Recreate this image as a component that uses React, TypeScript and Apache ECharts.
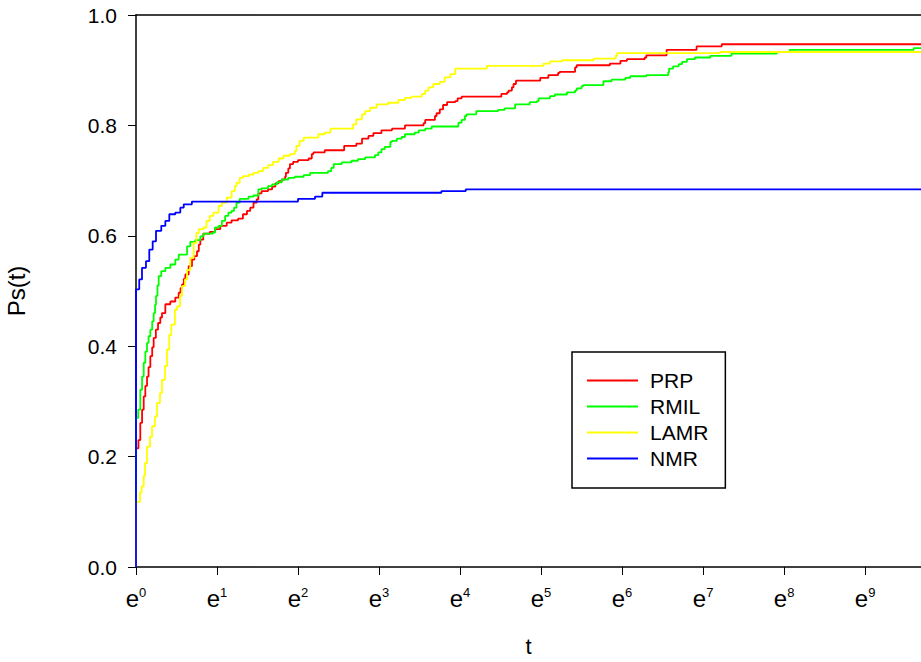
import React, { useEffect, useRef } from "react";
import * as echarts from "echarts";

// x values are ln(t); y values are Ps(t)
const seriesNames = ["PRP", "RMIL", "LAMR", "NMR"];
const seriesColors = ["#ff0000", "#00ff00", "#ffff00", "#0000ff"];
const xTickValues = [0, 1, 2, 3, 4, 5, 6, 7, 8, 9];
const yTickLabels = ["0.0", "0.2", "0.4", "0.6", "0.8", "1.0"];

const prp: [number, number][] = [
  [0, 0], [0, 0.215], [0.03, 0.23], [0.053, 0.261], [0.075, 0.285], [0.095, 0.309], [0.115, 0.328],
  [0.136, 0.345], [0.155, 0.362], [0.177, 0.382], [0.2, 0.398], [0.218, 0.415], [0.245, 0.43],
  [0.272, 0.442], [0.3, 0.452], [0.321, 0.46], [0.362, 0.476], [0.424, 0.481], [0.485, 0.488],
  [0.527, 0.497], [0.55, 0.505], [0.568, 0.512], [0.59, 0.522], [0.609, 0.53], [0.65, 0.545],
  [0.691, 0.557], [0.72, 0.563], [0.753, 0.572], [0.775, 0.584], [0.794, 0.593], [0.83, 0.604],
  [0.91, 0.607], [0.975, 0.612], [1.04, 0.618], [1.12, 0.624], [1.18, 0.628], [1.26, 0.631],
  [1.32, 0.639], [1.37, 0.645], [1.41, 0.651], [1.45, 0.66], [1.49, 0.666], [1.51, 0.677],
  [1.55, 0.681], [1.63, 0.684], [1.68, 0.689], [1.72, 0.695], [1.76, 0.699], [1.8, 0.702],
  [1.84, 0.707], [1.85, 0.714], [1.88, 0.722], [1.9, 0.73], [1.94, 0.734], [2.0, 0.737],
  [2.13, 0.74], [2.17, 0.748], [2.19, 0.751], [2.33, 0.755], [2.57, 0.763], [2.72, 0.767],
  [2.79, 0.776], [2.87, 0.781], [2.93, 0.786], [3.03, 0.791], [3.16, 0.794], [3.32, 0.8],
  [3.55, 0.804], [3.57, 0.81], [3.69, 0.817], [3.71, 0.822], [3.75, 0.829], [3.79, 0.837],
  [3.84, 0.842], [3.94, 0.844], [3.97, 0.849], [4.02, 0.852], [4.51, 0.857], [4.58, 0.86],
  [4.6, 0.863], [4.64, 0.869], [4.66, 0.875], [4.69, 0.881], [4.99, 0.886], [5.09, 0.891],
  [5.21, 0.895], [5.23, 0.897], [5.42, 0.905], [5.44, 0.909], [5.85, 0.912], [5.98, 0.917],
  [6.06, 0.92], [6.28, 0.923], [6.3, 0.927], [6.55, 0.937], [6.92, 0.943], [7.23, 0.947],
  [9.69, 0.947],
];

const rmil: [number, number][] = [
  [0, 0], [0, 0.27], [0.028, 0.285], [0.053, 0.321], [0.075, 0.345], [0.095, 0.37], [0.115, 0.39],
  [0.136, 0.406], [0.155, 0.418], [0.177, 0.43], [0.2, 0.445], [0.218, 0.46], [0.235, 0.475],
  [0.247, 0.491], [0.265, 0.51], [0.28, 0.527], [0.312, 0.536], [0.362, 0.542], [0.424, 0.548],
  [0.485, 0.557], [0.527, 0.566], [0.63, 0.581], [0.67, 0.589], [0.73, 0.592], [0.794, 0.599],
  [0.835, 0.604], [0.95, 0.606], [0.975, 0.615], [1.02, 0.618], [1.06, 0.627], [1.1, 0.636],
  [1.14, 0.642], [1.18, 0.645], [1.21, 0.651], [1.24, 0.66], [1.28, 0.667], [1.39, 0.671],
  [1.45, 0.673], [1.51, 0.684], [1.55, 0.686], [1.63, 0.69], [1.68, 0.693], [1.74, 0.697],
  [1.8, 0.702], [1.88, 0.705], [1.96, 0.707], [2.07, 0.71], [2.15, 0.714], [2.37, 0.717],
  [2.41, 0.723], [2.44, 0.73], [2.54, 0.733], [2.66, 0.736], [2.74, 0.739], [2.83, 0.742],
  [2.95, 0.746], [2.99, 0.751], [3.03, 0.757], [3.07, 0.761], [3.14, 0.77], [3.16, 0.772],
  [3.22, 0.776], [3.28, 0.779], [3.32, 0.784], [3.44, 0.787], [3.49, 0.791], [3.57, 0.794],
  [3.65, 0.798], [3.98, 0.805], [4.02, 0.81], [4.06, 0.817], [4.08, 0.82], [4.2, 0.826],
  [4.47, 0.828], [4.55, 0.831], [4.68, 0.838], [4.86, 0.842], [4.95, 0.844], [4.97, 0.849],
  [5.11, 0.853], [5.17, 0.856], [5.32, 0.86], [5.42, 0.863], [5.44, 0.867], [5.5, 0.871],
  [5.52, 0.873], [5.77, 0.88], [5.87, 0.883], [6.04, 0.886], [6.1, 0.889], [6.3, 0.891],
  [6.57, 0.896], [6.58, 0.903], [6.63, 0.907], [6.7, 0.911], [6.74, 0.915], [6.8, 0.92],
  [6.9, 0.923], [7.09, 0.926], [7.35, 0.93], [7.91, 0.933], [8.07, 0.937], [9.6, 0.94],
  [9.69, 0.94],
];

const lamr: [number, number][] = [
  [0, 0], [0, 0.118], [0.028, 0.118], [0.05, 0.135], [0.07, 0.146], [0.095, 0.165], [0.111, 0.188],
  [0.136, 0.218], [0.173, 0.236], [0.198, 0.255], [0.235, 0.273], [0.259, 0.297], [0.296, 0.315],
  [0.321, 0.339], [0.358, 0.364], [0.383, 0.394], [0.41, 0.42], [0.436, 0.439], [0.48, 0.466],
  [0.506, 0.472], [0.543, 0.491], [0.568, 0.509], [0.605, 0.521], [0.63, 0.538], [0.67, 0.56],
  [0.712, 0.587], [0.745, 0.605], [0.774, 0.612], [0.835, 0.615], [0.87, 0.627], [0.91, 0.636],
  [0.955, 0.642], [1.02, 0.654], [1.06, 0.66], [1.12, 0.669], [1.18, 0.681], [1.22, 0.69],
  [1.24, 0.696], [1.28, 0.705], [1.32, 0.708], [1.39, 0.711], [1.45, 0.714], [1.51, 0.717],
  [1.57, 0.723], [1.63, 0.728], [1.69, 0.734], [1.76, 0.74], [1.82, 0.745], [1.9, 0.748],
  [1.96, 0.754], [1.98, 0.763], [2.02, 0.772], [2.07, 0.778], [2.25, 0.784], [2.33, 0.787],
  [2.4, 0.794], [2.68, 0.802], [2.72, 0.811], [2.79, 0.82], [2.83, 0.826], [2.89, 0.832],
  [2.97, 0.838], [3.11, 0.841], [3.24, 0.846], [3.32, 0.85], [3.4, 0.852], [3.53, 0.857],
  [3.57, 0.863], [3.61, 0.869], [3.67, 0.875], [3.75, 0.879], [3.81, 0.887], [3.88, 0.893],
  [3.94, 0.903], [4.33, 0.908], [5.03, 0.912], [5.11, 0.916], [5.26, 0.918], [5.65, 0.921],
  [5.92, 0.926], [5.94, 0.931], [7.21, 0.933], [9.69, 0.933],
];

const nmr: [number, number][] = [
  [0, 0], [0, 0.503], [0.04, 0.521], [0.074, 0.542], [0.123, 0.554], [0.164, 0.575], [0.206, 0.59],
  [0.247, 0.609], [0.312, 0.618], [0.362, 0.627], [0.411, 0.639], [0.485, 0.642], [0.547, 0.651],
  [0.589, 0.657], [0.69, 0.662], [2.0, 0.667], [2.21, 0.671], [2.3, 0.678], [3.77, 0.681],
  [4.07, 0.684], [9.69, 0.684],
];

const seriesData = [prp, rmil, lamr, nmr];

const FONT = "'Liberation Sans', Arial, sans-serif";
const NARROW = "'Liberation Sans Narrow', 'Arial Narrow', 'Liberation Sans', Arial, sans-serif";

export default function App() {
  const ref = useRef<HTMLDivElement>(null);

  useEffect(() => {
    if (!ref.current) return;
    const chart = echarts.init(ref.current, undefined, { renderer: "svg" });
    const xMax = 9.69;
    chart.setOption({
      animation: false,
      backgroundColor: "#ffffff",
      textStyle: { fontFamily: FONT, color: "#000" },
      grid: { left: 136, right: 0, top: 15, bottom: 95, containLabel: false, outerBoundsMode: "none" },
      legend: {
        orient: "vertical",
        left: 572,
        top: 352,
        data: seriesNames,
        icon: "rect",
        itemWidth: 51,
        itemHeight: 2,
        itemGap: 5,
        padding: [18, 17, 19, 15],
        borderColor: "#000",
        borderWidth: 1.5,
        backgroundColor: "#fff",
        textStyle: { fontSize: 21, color: "#000", fontFamily: FONT, padding: [0, 0, 0, 7] },
      },
      xAxis: [
        {
          type: "value",
          min: 0,
          max: xMax,
          interval: 1,
          name: "t",
          nameLocation: "middle",
          nameGap: 68,
          nameTextStyle: { fontSize: 22, color: "#000", fontFamily: FONT },
          axisLine: { show: true, onZero: false, lineStyle: { color: "#000", width: 1.5 } },
          axisTick: {
            show: true,
            inside: false,
            length: 8,
            customValues: xTickValues,
            lineStyle: { color: "#000", width: 1 },
          },
          splitLine: { show: false },
          axisLabel: {
            customValues: xTickValues,
            margin: 19,
            formatter: (v: number) => `{b|e}{s|${Math.round(v)}}`,
            rich: {
              b: { fontSize: 24, lineHeight: 24, color: "#000", fontFamily: NARROW },
              s: { fontSize: 13, lineHeight: 20, verticalAlign: "top", color: "#000", fontFamily: NARROW },
            },
          },
        },
        {
          type: "value",
          position: "top",
          min: 0,
          max: xMax,
          axisLine: { show: true, onZero: false, lineStyle: { color: "#000", width: 1.5 } },
          axisTick: { show: false },
          axisLabel: { show: false },
          splitLine: { show: false },
        },
      ],
      yAxis: {
        type: "value",
        min: 0,
        max: 1,
        interval: 0.2,
        name: "Ps(t)",
        nameLocation: "middle",
        nameGap: 108,
        nameTextStyle: { fontSize: 24, color: "#000", fontFamily: FONT },
        axisLine: { show: true, onZero: false, lineStyle: { color: "#000", width: 1.5 } },
        axisTick: { show: true, inside: false, length: 8, lineStyle: { color: "#000", width: 1 } },
        splitLine: { show: false },
        axisLabel: {
          margin: 19,
          fontSize: 21,
          color: "#000",
          fontFamily: FONT,
          formatter: (v: number) => yTickLabels[Math.round(v * 5)] ?? v.toFixed(1),
        },
      },
      series: seriesData.map((d, i) => ({
        name: seriesNames[i],
        type: "line",
        step: "end",
        data: d,
        xAxisIndex: 0,
        showSymbol: false,
        symbol: "none",
        lineStyle: { color: seriesColors[i], width: 1.8 },
        itemStyle: { color: seriesColors[i] },
        z: 2 + i,
      })),
    });
    return () => chart.dispose();
  }, []);

  return (
    <div
      ref={ref}
      style={{ position: "absolute", left: 0, top: 0, width: 921, height: 662, background: "#fff" }}
    />
  );
}
